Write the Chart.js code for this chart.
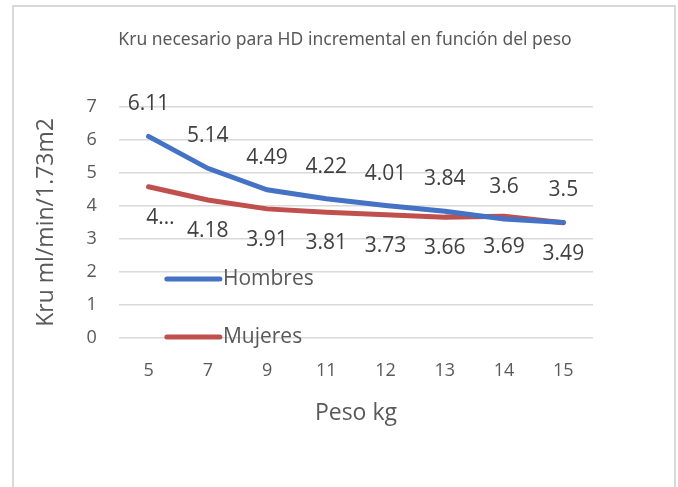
<!DOCTYPE html>
<html>
<head>
<meta charset="utf-8">
<script src="https://cdn.jsdelivr.net/npm/chart.js@4"></script>
<style>
  html, body { margin: 0; padding: 0; background: #fff; }
  #wrap { position: relative; width: 678px; height: 487px; }
  #frame {
    position: absolute; left: 12px; top: 5px; width: 660px; height: 500px;
    border: 2px solid #d9d9d9; pointer-events: none;
  }
</style>
</head>
<body>
<div id="wrap">
  <canvas id="chart" width="678" height="487"></canvas>
  <div id="frame"></div>
</div>
<script>
// Datos del gráfico
const pesos = ["5", "7", "9", "11", "12", "13", "14", "15"];
const hombres = [6.11, 5.14, 4.49, 4.22, 4.01, 3.84, 3.6, 3.5];
const mujeres = [4.58, 4.18, 3.91, 3.81, 3.73, 3.66, 3.69, 3.49];
const mujeresEtiquetas = ["4…", "4.18", "3.91", "3.81", "3.73", "3.66", "3.69", "3.49"];
const yTicks = [0, 1, 2, 3, 4, 5, 6, 7];
const titulo = "Kru necesario para HD incremental en función del peso";

const textColor = "#595959";
const labelColor = "#404040";

// Título centrado en el lienzo
const chartTitle = {
  id: "chartTitle",
  afterDraw(chart) {
    const ctx = chart.ctx;
    ctx.save();
    ctx.font = "17.5px 'Noto Sans'";
    ctx.fillStyle = textColor;
    ctx.textAlign = "center";
    ctx.textBaseline = "middle";
    ctx.fillText(titulo, 345, 40);
    ctx.restore();
  },
};

// Etiquetas de datos: Hombres arriba, Mujeres abajo
const dataLabels = {
  id: "dataLabels",
  afterDatasetsDraw(chart) {
    const ctx = chart.ctx;
    ctx.save();
    ctx.font = "21px 'Open Sans'";
    ctx.fillStyle = labelColor;
    ctx.textAlign = "center";
    ctx.textBaseline = "middle";
    chart.data.datasets.forEach((ds, i) => {
      const meta = chart.getDatasetMeta(i);
      meta.data.forEach((pt, j) => {
        const txt = ds.labelsText ? ds.labelsText[j] : String(ds.data[j]);
        const dy = i === 0 ? -32 : 31;
        ctx.fillText(txt, pt.x + (txt.length < 3 ? 12 : 0), pt.y + dy);
      });
    });
    ctx.restore();
  },
};

// Leyenda dentro del área del gráfico
const innerLegend = {
  id: "innerLegend",
  afterDraw(chart) {
    const ctx = chart.ctx;
    const area = chart.chartArea;
    const x0 = area.left + 48;
    const rows = [area.top + 172, area.top + 230];
    ctx.save();
    chart.data.datasets.forEach((ds, i) => {
      const y = rows[i];
      ctx.strokeStyle = ds.borderColor;
      ctx.lineWidth = 5;
      ctx.lineCap = "round";
      ctx.beginPath();
      ctx.moveTo(x0, y);
      ctx.lineTo(x0 + 53, y);
      ctx.stroke();
      ctx.font = "21px 'Open Sans'";
      ctx.fillStyle = textColor;
      ctx.textAlign = "left";
      ctx.textBaseline = "middle";
      ctx.fillText(ds.label, x0 + 56, y);
    });
    ctx.restore();
  },
};

const ctx = document.getElementById("chart").getContext("2d");
new Chart(ctx, {
  type: "line",
  data: {
    labels: pesos,
    datasets: [
      {
        label: "Hombres",
        data: hombres,
        borderColor: "#4472C4",
        borderWidth: 5,
        borderCapStyle: "round",
        pointRadius: 0,
        tension: 0,
      },
      {
        label: "Mujeres",
        data: mujeres,
        labelsText: mujeresEtiquetas,
        borderColor: "#C0504D",
        borderWidth: 5,
        borderCapStyle: "round",
        pointRadius: 0,
        tension: 0,
      },
    ],
  },
  options: {
    responsive: false,
    animation: false,
    layout: { padding: { top: 107, left: 33, right: 85, bottom: 60 } },
    plugins: {
      legend: { display: false },
      tooltip: { enabled: false },
      title: { display: false },
    },
    scales: {
      x: {
        offset: true,
        grid: { display: false },
        border: { display: false },
        ticks: {
          color: textColor,
          font: { family: "'Open Sans'", size: 18 },
          padding: 14,
        },
        title: {
          display: true,
          text: "Peso kg",
          color: textColor,
          font: { family: "'Open Sans'", size: 23 },
          padding: { top: 4, bottom: 0 },
        },
      },
      y: {
        min: 0,
        max: 7,
        afterBuildTicks: (scale) => {
          scale.ticks = yTicks.map((v) => ({ value: v }));
        },
        grid: { color: "#d9d9d9", lineWidth: 1.5, drawTicks: false },
        border: { display: false },
        ticks: {
          color: textColor,
          font: { family: "'Open Sans'", size: 18 },
          padding: 22,
        },
        title: {
          display: true,
          text: "Kru ml/min/1.73m2",
          color: textColor,
          font: { family: "'Open Sans'", size: 23 },
          padding: { top: 0, bottom: 4 },
        },
      },
    },
  },
  plugins: [chartTitle, dataLabels, innerLegend],
});
</script>
</body>
</html>
